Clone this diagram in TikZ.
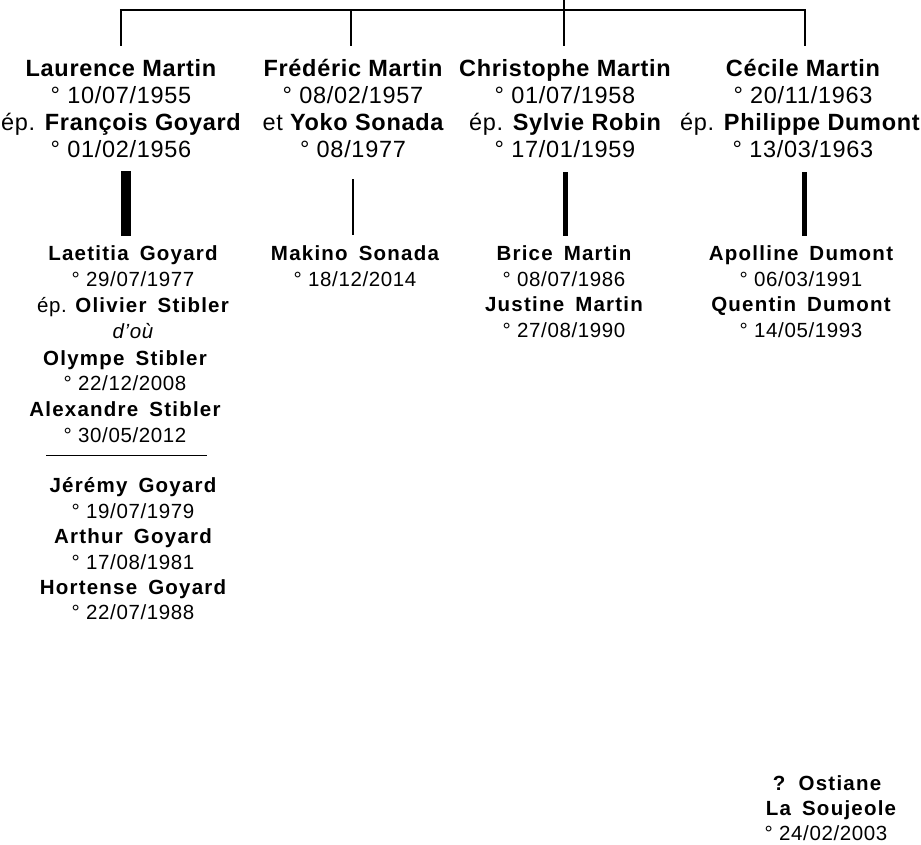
\documentclass[tikz,border=0pt]{standalone}
\usepackage{fontspec}
\setmainfont{Liberation Sans}
\newfontfamily\gaf{Liberation Sans}[LetterSpace=3]
\newfontfamily\gbf{Liberation Sans}[LetterSpace=6,WordSpace=1.6]
\newfontfamily\gcf{Liberation Sans}[LetterSpace=3]
\begin{document}
\begin{tikzpicture}[x=1pt,y=-1pt,
  ga/.style={inner sep=0pt,anchor=base,font=\gaf\fontsize{23.5}{27}\selectfont},
  gb/.style={inner sep=0pt,anchor=base,font=\gbf\fontsize{20.5}{26}\selectfont\bfseries},
  gd/.style={inner sep=0pt,anchor=base,font=\gcf\fontsize{20.5}{26}\selectfont},
  link/.style={line width=2.4pt},
  bar/.style={line width=#1},
]
\fill[white] (0,0) rectangle (921,844);
\useasboundingbox (0,0) rectangle (921,844);

% top connectors
\coordinate (t0) at (564,0);
\coordinate (tm) at (564,10);
\coordinate (t1) at (121,10);
\coordinate (t2) at (351,10);
\coordinate (t4) at (805,10);
\coordinate (d1) at (121,46);
\coordinate (d2) at (351,46);
\coordinate (d3) at (564,46);
\coordinate (d4) at (805,46);
\draw[link] (t0) -- (tm);
\draw[link] ([xshift=-1.2pt]t1) -- ([xshift=1.2pt]t4);
\draw[link] (t1) -- (d1);
\draw[link] (t2) -- (d2);
\draw[link] (tm) -- (d3);
\draw[link] (t4) -- (d4);

% generation 1
\node[ga] (lm) at (121,76) {\bfseries Laurence Martin};
\node[ga] (lmd) at (121,103) {° 10/07/1955};
\node[ga] (fg) at (121,130) {ép. \bfseries François Goyard};
\node[ga] (fgd) at (121,157) {° 01/02/1956};

\node[ga] (fm) at (353,76) {\bfseries Frédéric Martin};
\node[ga] (fmd) at (353,103) {° 08/02/1957};
\node[ga] (ys) at (353,130) {et \bfseries Yoko Sonada};
\node[ga] (ysd) at (353,157) {° 08/1977};

\node[ga] (cm) at (565,76) {\bfseries Christophe Martin};
\node[ga] (cmd) at (565,103) {° 01/07/1958};
\node[ga] (sr) at (565,130) {ép. \bfseries Sylvie Robin};
\node[ga] (srd) at (565,157) {° 17/01/1959};

\node[ga] (ce) at (803,76) {\bfseries Cécile Martin};
\node[ga] (ced) at (803,103) {° 20/11/1963};
\node[ga] (pd) at (800,130) {ép. \bfseries Philippe Dumont};
\node[ga] (pdd) at (803,157) {° 13/03/1963};

% descent bars
\coordinate (b1a) at (125.7,171);
\coordinate (b1b) at (125.7,236);
\coordinate (b2a) at (353,179);
\coordinate (b2b) at (353,235);
\coordinate (b3a) at (565,172);
\coordinate (b3b) at (565,236);
\coordinate (b4a) at (804,172);
\coordinate (b4b) at (804,236);
\draw[bar=10pt] (b1a) -- (b1b);
\draw[bar=2.3pt] (b2a) -- (b2b);
\draw[bar=5pt] (b3a) -- (b3b);
\draw[bar=5pt] (b4a) -- (b4b);

% generation 2 - Goyard
\node[gb] (lg) at (133,260) {Laetitia Goyard};
\node[gd] (lgd) at (133,286) {° 29/07/1977};
\node[gd] (os) at (133,312) {ép. {\gbf\bfseries Olivier Stibler}};
\node[gd] (dou) at (133,338) {\itshape d’où};
\node[gb] (oy) at (125,365) {Olympe Stibler};
\node[gd] (oyd) at (125,390) {° 22/12/2008};
\node[gb] (as) at (125,416) {Alexandre Stibler};
\node[gd] (asd) at (125,442) {° 30/05/2012};
\coordinate (s1) at (46,455);
\coordinate (s2) at (207,455);
\draw[line width=0.9pt] (s1) -- (s2);
\node[gb] (jg) at (133,492) {Jérémy Goyard};
\node[gd] (jgd) at (133,518) {° 19/07/1979};
\node[gb] (ag) at (133,543) {Arthur Goyard};
\node[gd] (agd) at (133,569) {° 17/08/1981};
\node[gb] (hg) at (133,594) {Hortense Goyard};
\node[gd] (hgd) at (133,619) {° 22/07/1988};

% Sonada
\node[gb] (ms) at (355,260) {Makino Sonada};
\node[gd] (msd) at (355,286) {° 18/12/2014};

% Martin
\node[gb] (bm) at (564,260) {Brice Martin};
\node[gd] (bmd) at (564,286) {° 08/07/1986};
\node[gb] (jm) at (564,311) {Justine Martin};
\node[gd] (jmd) at (564,337) {° 27/08/1990};

% Dumont
\node[gb] (ad) at (801,260) {Apolline Dumont};
\node[gd] (add) at (801,286) {° 06/03/1991};
\node[gb] (qd) at (801,311) {Quentin Dumont};
\node[gd] (qdd) at (801,337) {° 14/05/1993};

% Ostiane
\node[gb] (ol) at (827,790) {? Ostiane};
\node[gb] (ls) at (831,815) {La Soujeole};
\node[gd] (lsd) at (826,840) {° 24/02/2003};
\end{tikzpicture}
\end{document}
